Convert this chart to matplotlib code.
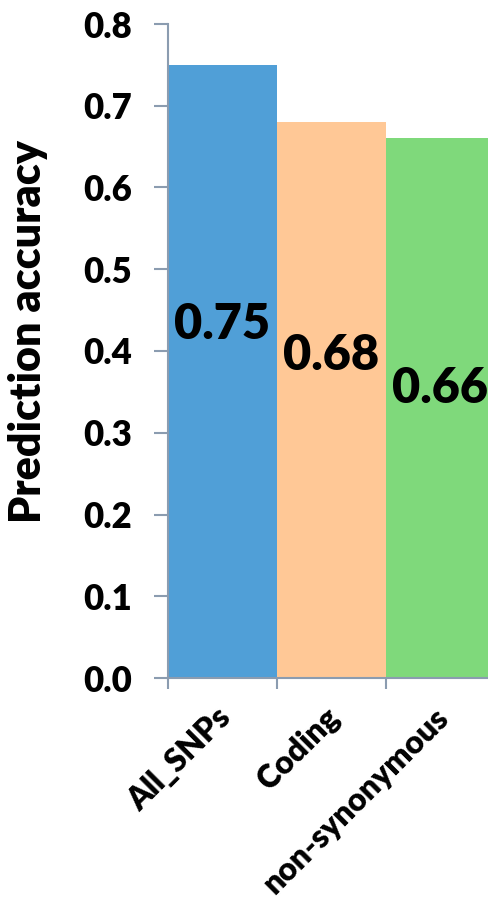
import numpy as np
import matplotlib
matplotlib.use("Agg")
import matplotlib.pyplot as plt

plt.rcParams['font.family'] = ['Lato', 'DejaVu Sans']
plt.rcParams['font.weight'] = 'heavy'

# prediction accuracy per SNP set
categories = ['All_SNPs', 'Coding', 'non-synonymous']
accuracy = [0.75, 0.68, 0.66]
label_y = [0.433, 0.395, 0.354]
colors = ['#509fd7', '#ffc896', '#7fd97b']
yticks = [0.0, 0.1, 0.2, 0.3, 0.4, 0.5, 0.6, 0.7, 0.8]

fig = plt.figure(figsize=(4.89, 9.05), dpi=100)
ax = fig.add_axes([168/489, 227/905, 327/489, 654/905])

x = np.arange(len(categories))
ax.bar(x, accuracy, width=1.0, color=colors, zorder=2)

for xi, v, ly in zip(x, accuracy, label_y):
    ax.text(xi, ly, '%.2f' % v, ha='center', va='center',
            fontsize=35, fontweight='heavy', color='black', zorder=3)

ax.set_xlim(-0.5, 2.5)
ax.set_ylim(0, 0.8)
ax.set_yticks(yticks)
ax.set_yticklabels(['%.1f' % t for t in yticks], fontsize=25, fontweight='heavy')

# category ticks sit on the bar boundaries, labels at bar centres
ax.set_xticks([-0.5, 0.5, 1.5])
ax.set_xticklabels([])
ax.set_xticks(x + 0.03, minor=True)
ax.set_xticklabels(categories, minor=True, rotation=45, ha='right', va='center',
                   rotation_mode='anchor', fontsize=23, fontweight='heavy')
ax.tick_params(axis='x', which='minor', length=0, pad=25)
ax.tick_params(axis='x', which='major', length=8, width=1.5,
               color='#8b9cb0', direction='out')
ax.tick_params(axis='y', length=10, width=1.5, color='#8b9cb0', pad=16)

ax.set_ylabel('Prediction accuracy', fontsize=31, fontweight='heavy')
ax.yaxis.set_label_coords(-0.367, 0.53)

for side in ['top', 'right']:
    ax.spines[side].set_visible(False)
for side in ['left', 'bottom']:
    ax.spines[side].set_color('#8b9cb0')
    ax.spines[side].set_linewidth(1.5)

fig.savefig('out.png', dpi=100)
